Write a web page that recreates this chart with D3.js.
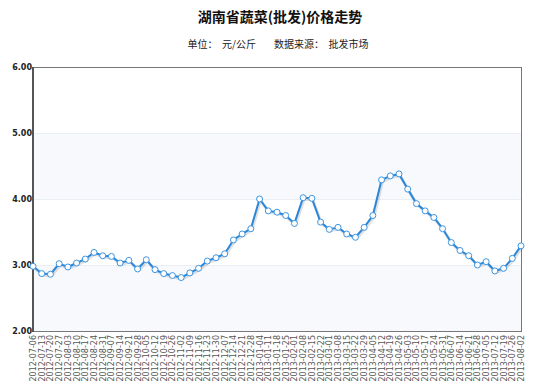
<!DOCTYPE html>
<html>
<head>
<meta charset="utf-8">
<script src="https://cdn.jsdelivr.net/npm/d3@7"></script>
<style>
  body { margin: 0; background: #fff; }
  svg { display: block; }
</style>
</head>
<body>
<div id="chart"></div>
<script>
const dates = ["2012-07-06","2012-07-13","2012-07-20","2012-07-27","2012-08-03","2012-08-10","2012-08-17","2012-08-24","2012-08-31",
  "2012-09-07","2012-09-14","2012-09-21","2012-09-28","2012-10-05","2012-10-12","2012-10-19","2012-10-26","2012-11-02",
  "2012-11-09","2012-11-16","2012-11-23","2012-11-30","2012-12-07","2012-12-14","2012-12-21","2012-12-28","2013-01-04",
  "2013-01-11","2013-01-18","2013-01-25","2013-02-01","2013-02-08","2013-02-15","2013-02-22","2013-03-01","2013-03-08",
  "2013-03-15","2013-03-22","2013-03-29","2013-04-05","2013-04-12","2013-04-19","2013-04-26","2013-05-03","2013-05-10",
  "2013-05-17","2013-05-24","2013-05-31","2013-06-07","2013-06-14","2013-06-21","2013-06-28","2013-07-05","2013-07-12",
  "2013-07-19","2013-07-26","2013-08-02"];
const prices = [2.98,2.87,2.86,3.02,2.97,3.03,3.09,3.19,3.14,
  3.13,3.03,3.07,2.94,3.08,2.93,2.87,2.84,2.81,
  2.88,2.95,3.06,3.11,3.17,3.38,3.47,3.55,4.00,
  3.82,3.80,3.75,3.63,4.02,4.01,3.65,3.54,3.57,
  3.47,3.42,3.57,3.75,4.29,4.35,4.38,4.15,3.93,
  3.82,3.72,3.55,3.34,3.22,3.14,3.00,3.05,2.91,
  2.95,3.10,3.29];
const yTicks = [2, 3, 4, 5, 6];
const titleText = "湖南省蔬菜(批发)价格走势";
const subtitleText = "单位：  元/公斤        数据来源：  批发市场";

const width = 553, height = 387;
const margin = { top: 67, right: 32, bottom: 56, left: 33 };

const svg = d3.select("#chart").append("svg")
  .attr("width", width)
  .attr("height", height)
  .style("font-family", "Verdana, 'DejaVu Sans', sans-serif");

const x = d3.scalePoint()
  .domain(dates)
  .range([margin.left, width - margin.right]);

const y = d3.scaleLinear()
  .domain([2, 6])
  .range([height - margin.bottom, margin.top]);

// alternating bands
svg.append("g")
  .selectAll("rect")
  .data([[2, 3], [4, 5]])
  .enter().append("rect")
  .attr("x", margin.left)
  .attr("width", width - margin.right - margin.left)
  .attr("y", d => y(d[1]))
  .attr("height", d => y(d[0]) - y(d[1]))
  .attr("fill", "#f7f9fd");

// grid lines
svg.append("g")
  .selectAll("line")
  .data(yTicks)
  .enter().append("line")
  .attr("x1", margin.left)
  .attr("x2", width - margin.right)
  .attr("y1", d => y(d) + 0.5)
  .attr("y2", d => y(d) + 0.5)
  .attr("stroke", "#eaeff6")
  .attr("stroke-width", 1);

// plot border
svg.append("rect")
  .attr("x", margin.left + 0.5)
  .attr("y", margin.top + 0.5)
  .attr("width", width - margin.right - margin.left)
  .attr("height", height - margin.bottom - margin.top)
  .attr("fill", "none")
  .attr("stroke", "#777")
  .attr("stroke-width", 1);

svg.append("line")
  .attr("x1", margin.left)
  .attr("x2", margin.left)
  .attr("y1", margin.top)
  .attr("y2", height - margin.bottom + 1)
  .attr("stroke", "#555")
  .attr("stroke-width", 2);

// y labels
svg.append("g")
  .selectAll("text")
  .data(yTicks)
  .enter().append("text")
  .attr("x", margin.left - 1)
  .attr("y", d => y(d))
  .attr("dy", "0.32em")
  .attr("text-anchor", "end")
  .style("font-size", "8px")
  .style("font-weight", "bold")
  .style("fill", "#222")
  .text(d => d.toFixed(2));

// x labels
svg.append("g")
  .selectAll("text")
  .data(dates)
  .enter().append("text")
  .attr("transform", d => "translate(" + (x(d) + 3) + "," + (height - margin.bottom + 4) + ") rotate(-90)")
  .attr("text-anchor", "end")
  .style("font-size", "8px")
  .style("fill", "#555")
  .text(d => d);

const line = d3.line()
  .x((d, i) => x(dates[i]))
  .y(d => y(d));

// shadow
svg.append("path")
  .datum(prices)
  .attr("d", line)
  .attr("transform", "translate(1,1.5)")
  .attr("fill", "none")
  .attr("stroke", "#000")
  .attr("stroke-opacity", 0.12)
  .attr("stroke-width", 3);

svg.append("path")
  .datum(prices)
  .attr("d", line)
  .attr("fill", "none")
  .attr("stroke", "#2a86d8")
  .attr("stroke-width", 2)
  .attr("stroke-linejoin", "round");

svg.append("g")
  .selectAll("circle")
  .data(prices)
  .enter().append("circle")
  .attr("cx", (d, i) => x(dates[i]))
  .attr("cy", d => y(d))
  .attr("r", 3)
  .attr("fill", "#fff")
  .attr("stroke", "#3d95e0")
  .attr("stroke-width", 1);

// titles
svg.append("text")
  .attr("x", 280)
  .attr("y", 22)
  .attr("text-anchor", "middle")
  .style("font-family", "'Noto Sans CJK SC', sans-serif")
  .style("font-size", "14px")
  .style("font-weight", "bold")
  .style("fill", "#111")
  .text(titleText);

svg.append("text")
  .attr("x", 278)
  .attr("y", 48)
  .attr("text-anchor", "middle")
  .style("font-family", "'Noto Sans CJK SC', sans-serif")
  .style("font-size", "10px")
  .style("fill", "#222")
  .style("white-space", "pre")
  .attr("xml:space", "preserve")
  .text(subtitleText);
</script>
</body>
</html>
